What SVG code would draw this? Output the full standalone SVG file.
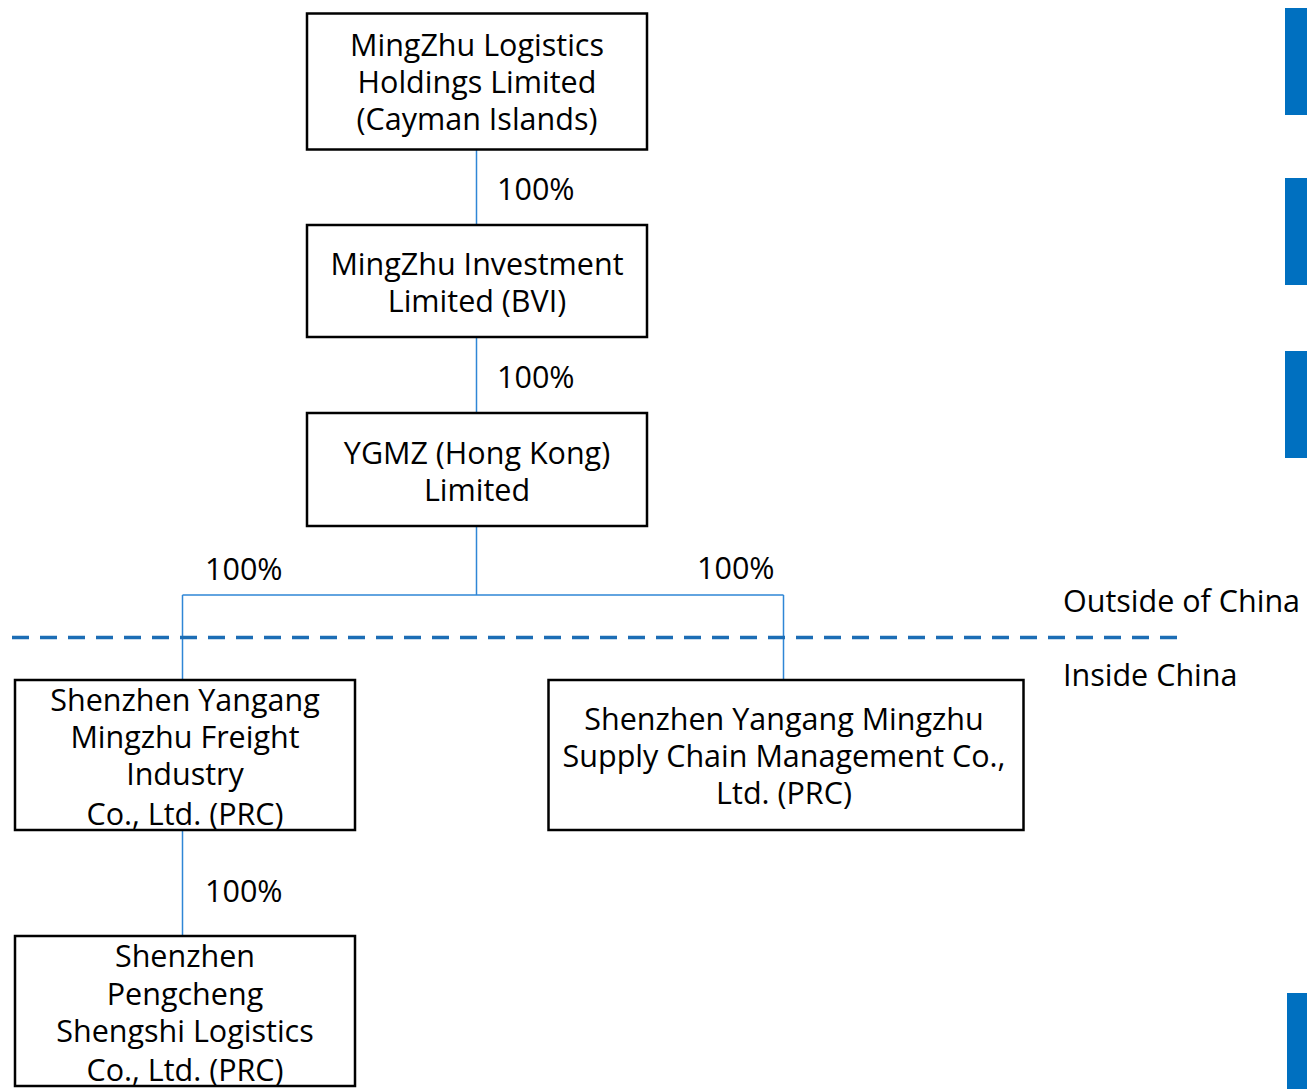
<svg xmlns="http://www.w3.org/2000/svg" width="1307" height="1089" viewBox="0 0 1307 1089">
<style>
.box{fill:#fff;stroke:#000;stroke-width:2.5}
.t{font-family:"Open Sans","Noto Sans","Liberation Sans",sans-serif;font-size:30.5px;fill:#000}
.c{text-anchor:middle}
.con{fill:none;stroke:#2f86d6;stroke-width:1.5}
.bar{fill:#0070c0}
</style>
<rect width="1307" height="1089" fill="#fff"/>
<g id="sidebars">
<rect class="bar" x="1285" y="8" width="22" height="107"/>
<rect class="bar" x="1285" y="178" width="22" height="107"/>
<rect class="bar" x="1285" y="351" width="22" height="107"/>
<rect class="bar" x="1287" y="993" width="20" height="96"/>
</g>
<g id="connectors">
<path class="con" d="M476.5 149V225M476.5 337V413M476.5 526V595M182.5 595H783.5M182.5 595V680M783.5 595V680M182.5 830V936"/>
<text class="t" x="497" y="200">100%</text>
<text class="t" x="497" y="388">100%</text>
<text class="t" x="205" y="580">100%</text>
<text class="t" x="697" y="579">100%</text>
<text class="t" x="205" y="902">100%</text>
</g>
<g id="border">
<line x1="12" y1="637.5" x2="1177" y2="637.5" stroke="#1c6db5" stroke-width="3.5" stroke-dasharray="17 11"/>
<text class="t" x="1063" y="612">Outside of China</text>
<text class="t" x="1063" y="686">Inside China</text>
</g>
<g id="n1">
<rect class="box" x="307" y="13.5" width="340" height="136"/>
<text class="t c" x="477" y="56">MingZhu Logistics</text>
<text class="t c" x="477" y="93">Holdings Limited</text>
<text class="t c" x="477" y="130">(Cayman Islands)</text>
</g>
<g id="n2">
<rect class="box" x="307" y="225" width="340" height="112"/>
<text class="t c" x="477" y="275">MingZhu Investment</text>
<text class="t c" x="477" y="312">Limited (BVI)</text>
</g>
<g id="n3">
<rect class="box" x="307" y="413" width="340" height="113"/>
<text class="t c" x="477" y="464">YGMZ (Hong Kong)</text>
<text class="t c" x="477" y="501">Limited</text>
</g>
<g id="n4">
<rect class="box" x="15" y="680" width="340" height="150"/>
<text class="t c" x="185" y="711">Shenzhen Yangang</text>
<text class="t c" x="185" y="748">Mingzhu Freight</text>
<text class="t c" x="185" y="785">Industry</text>
<text class="t c" x="185" y="825">Co., Ltd. (PRC)</text>
</g>
<g id="n5">
<rect class="box" x="548.5" y="680" width="475" height="150"/>
<text class="t c" x="784" y="730">Shenzhen Yangang Mingzhu</text>
<text class="t c" x="784" y="767">Supply Chain Management Co.,</text>
<text class="t c" x="784" y="804">Ltd. (PRC)</text>
</g>
<g id="n6">
<rect class="box" x="15" y="936" width="340" height="150"/>
<text class="t c" x="185" y="967">Shenzhen</text>
<text class="t c" x="185" y="1005">Pengcheng</text>
<text class="t c" x="185" y="1042">Shengshi Logistics</text>
<text class="t c" x="185" y="1081">Co., Ltd. (PRC)</text>
</g>
</svg>
